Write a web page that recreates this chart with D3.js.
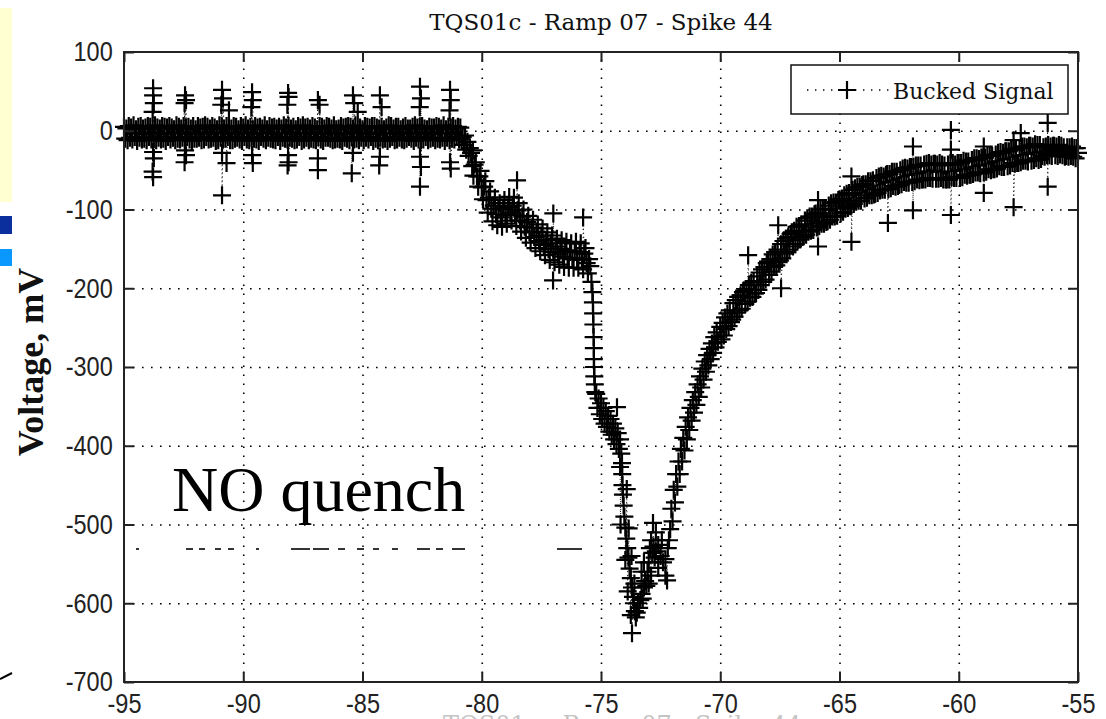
<!DOCTYPE html>
<html>
<head>
<meta charset="utf-8">
<script src="https://cdn.jsdelivr.net/npm/d3@7"></script>
<style>
  body { margin: 0; background: #fff; }
  svg { display: block; }
  .axis text { font-family: 'Liberation Sans', Arial, sans-serif; font-size: 25px; fill: #222; }
  .axis line { stroke: #222; stroke-width: 2; }
  .axis .domain { display: none; }
  .grid line { stroke: #000; stroke-width: 1.6; stroke-dasharray: 1.6 7.4; }
  .grid .domain { display: none; }
</style>
</head>
<body>
<svg id="chart" width="1106" height="719"></svg>
<script>
// x ticks (time) and y ticks (mV)
var xTicks = [-95, -90, -85, -80, -75, -70, -65, -60, -55];
var yTicks = [100, 0, -100, -200, -300, -400, -500, -600, -700];

// flat part, one reading every 0.05 from -95
var baseStart = -95, baseStep = 0.05;
var baselineMV = [
  5, -10, 3, -12, 6, -9, 4, -11, 7, -8,
  2, -13, 5, -9, 6, -11, 3, -10, 4, -12,
  6, -8, 5, -11, 2, -10, 7, -12, 4, -9,
  3, -11, 6, -10, 5, -13, 4, -8, 6, -11,
  4, -9, 2, -12, 7, -10, 5, -11, 3, -9,
  6, -12, 4, -8, 5, -11, 3, -13, 6, -10,
  2, -10, 6, -9, 4, -12, 5, -11, 7, -8,
  5, -11, 3, -10, 6, -9, 4, -13, 2, -12,
  7, -9, 5, -11, 3, -10, 6, -8, 4, -12,
  3, -12, 6, -10, 5, -9, 2, -11, 6, -13,
  4, -8, 7, -11, 3, -12, 5, -9, 2, -10,
  6, -11, 4, -13, 5, -8, 3, -10, 7, -12,
  2, -9, 6, -10, 4, -11, 5, -12, 3, -8,
  5, -13, 3, -9, 7, -10, 4, -11, 6, -9,
  3, -10, 5, -12, 2, -11, 6, -8, 4, -13,
  7, -11, 4, -9, 5, -12, 3, -10, 6, -11,
  4, -12, 2, -8, 6, -11, 5, -13, 3, -9,
  6, -9, 5, -10, 3, -12, 7, -11, 2, -10,
  3, -11, 6, -13, 4, -9, 5, -10, 6, -12,
  5, -8, 3, -11, 7, -10, 2, -12, 4, -9,
  2, -12, 6, -9, 5, -11, 4, -8, 6, -13,
  6, -10, 4, -12, 3, -9, 5, -11, 2, -10,
  4, -13, 7, -10, 6, -8, 3, -12, 5, -11,
  5, -9, 2, -11, 4, -12, 6, -10, 3, -8,
  3, -10, 5, -13, 7, -9, 4, -11, 5, -12,
  6, -11, 3, -8, 2, -12, 5, -10, 4, -9,
  4, -12, 6, -10, 5, -11, 3, -9, 7, -13,
  2, -9, 5, -12, 4, -10, 6, -11, 3, -8,
  5, -11, 4, -10, -8, -18, -6, -24, -14, -32,
  -22
];

// slope into the dip, one reading every 0.05 from -80.45
var slopeStart = -80.45, slopeStep = 0.05;
var slopeMV = [
  -28, -45, -57, -43, -40, -58, -71, -58, -51, -72,
  -87, -71, -64, -88, -104, -85, -77, -99, -115, -95,
  -85, -106, -120, -100, -92, -110, -122, -99, -88, -107,
  -118, -97, -84, -104, -114, -95, -85, -107, -121, -101,
  -92, -114, -128, -109, -100, -122, -136, -116, -108, -129,
  -142, -123, -113, -135, -149, -128, -119, -140, -153, -133,
  -124, -145, -158, -139, -129, -150, -164, -143, -133, -154,
  -167, -147, -137, -157, -170, -150, -139, -160, -173, -152,
  -141, -162, -174, -154, -143, -163, -174, -153, -141, -162,
  -174, -154, -143, -164, -176, -156, -149, -168, -181, -163
];

// the fall, the minimum and the climb back, [time, mV]
var dropPoints = [
  [-75.45, -172], [-75.4, -192], [-75.36, -205], [-75.34, -218], [-75.33, -232], [-75.32, -246], [-75.31, -262], [-75.3, -276], [-75.3, -290], [-75.29, -300],
  [-75.28, -312], [-75.26, -322], [-75.24, -332],
  [-75.2, -334], [-75.15, -352], [-75.1, -340], [-75.05, -360], [-75.0, -346], [-74.95, -366], [-74.9, -352], [-74.85, -372], [-74.8, -356], [-74.75, -376],
  [-74.7, -362], [-74.65, -382], [-74.6, -366], [-74.55, -386], [-74.5, -372], [-74.45, -392], [-74.4, -378], [-74.35, -398], [-74.3, -384], [-74.25, -404],
  [-74.2, -392], [-74.15, -410], [-74.12, -422], [-74.11, -436], [-74.1, -450], [-74.08, -462], [-74.05, -476], [-74.02, -490], [-73.98, -504], [-73.94, -518],
  [-73.92, -455], [-74.18, -500], [-73.84, -505], [-73.98, -545], [-73.72, -540], [-73.88, -585], [-73.6, -575], [-73.75, -615],
  [-73.9, -530], [-73.85, -542], [-73.8, -556], [-73.75, -568], [-73.7, -580], [-73.66, -592], [-73.62, -600], [-73.58, -610], [-73.54, -618], [-73.5, -612],
  [-73.45, -600], [-73.4, -606], [-73.35, -596], [-73.3, -588], [-73.25, -594], [-73.2, -580], [-73.15, -572], [-73.1, -578], [-73.05, -560], [-73.0, -548],
  [-73.3, -560], [-73.2, -548], [-73.0, -575], [-72.9, -565], [-72.7, -510], [-72.6, -555], [-72.45, -520], [-72.3, -565],
  [-72.95, -530], [-72.9, -520], [-72.85, -536], [-72.8, -528], [-72.75, -542], [-72.7, -534], [-72.6, -526], [-72.5, -540], [-72.4, -548], [-72.3, -544],
  [-72.2, -530], [-72.15, -520], [-72.1, -506],
  [-72.05, -480], [-72.0, -496], [-71.95, -456], [-71.9, -472], [-71.85, -436], [-71.8, -452], [-71.75, -420], [-71.7, -436], [-71.65, -404], [-71.6, -420],
  [-71.55, -390], [-71.5, -406], [-71.45, -376], [-71.4, -392], [-71.35, -364], [-71.3, -380], [-71.25, -352], [-71.2, -368], [-71.15, -342], [-71.1, -358],
  [-71.05, -332], [-71.0, -348], [-70.95, -322], [-70.9, -338], [-70.85, -312], [-70.8, -326], [-70.75, -302], [-70.7, -316], [-70.65, -293], [-70.6, -306],
  [-70.55, -285], [-70.5, -298], [-70.45, -277], [-70.4, -290], [-70.35, -270], [-70.3, -282], [-70.25, -262], [-70.2, -275], [-70.15, -256], [-70.1, -268]
];

// recovery, one reading every 0.05 from -70
var recStart = -70, recStep = 0.05;
var recoveryMV = [
  -249, -265, -244, -260, -237, -252, -232, -248, -228, -243,
  -240, -219, -236, -215, -231, -211, -228, -209, -226, -205,
  -203, -220, -201, -217, -196, -212, -193, -211, -191, -207,
  -206, -185, -202, -180, -196, -176, -192, -173, -189, -168,
  -166, -183, -163, -179, -157, -173, -154, -171, -151, -167,
  -165, -144, -162, -140, -156, -137, -154, -135, -151, -131,
  -129, -147, -127, -144, -122, -139, -121, -138, -119, -135,
  -134, -114, -132, -111, -128, -109, -127, -109, -126, -106,
  -105, -123, -104, -121, -100, -118, -100, -118, -99, -116,
  -115, -95, -113, -92, -109, -91, -109, -91, -108, -88,
  -87, -105, -86, -103, -82, -99, -80, -98, -79, -96,
  -95, -75, -93, -73, -90, -71, -89, -71, -89, -69,
  -68, -86, -68, -85, -64, -82, -64, -82, -63, -81,
  -80, -60, -79, -58, -76, -57, -75, -58, -75, -56,
  -55, -74, -55, -73, -52, -70, -52, -71, -52, -70,
  -69, -50, -68, -48, -65, -47, -66, -48, -66, -46,
  -46, -65, -46, -64, -44, -62, -44, -63, -44, -62,
  -62, -43, -62, -42, -60, -41, -60, -43, -61, -42,
  -42, -61, -43, -61, -41, -60, -43, -62, -44, -62,
  -62, -43, -62, -41, -59, -41, -60, -43, -60, -41,
  -41, -60, -41, -59, -38, -56, -39, -57, -39, -56,
  -56, -37, -55, -35, -53, -35, -53, -36, -54, -34,
  -34, -53, -34, -52, -31, -49, -32, -50, -32, -49,
  -49, -30, -48, -28, -45, -27, -46, -28, -46, -26,
  -26, -45, -26, -44, -23, -41, -24, -42, -24, -41,
  -41, -22, -40, -20, -38, -20, -38, -21, -39, -19,
  -19, -38, -20, -37, -17, -35, -18, -37, -18, -36,
  -32, -21, -33, -20, -31, -18, -31, -20, -32, -19,
  -19, -31, -20, -32, -18, -30, -19, -31, -21, -33,
  -32, -21, -33, -21, -32, -20, -33, -22, -35, -22,
  -28
];

// isolated readings away from the band
var spikePoints = [
  [-93.78, 54], [-93.78, 45], [-93.75, 35], [-93.8, 24], [-93.78, -27], [-93.75, -35], [-93.8, -52], [-93.78, -59],
  [-92.44, 45], [-92.4, 39], [-92.46, 35], [-92.44, -25], [-92.4, -31], [-92.46, -40],
  [-90.89, 52], [-90.85, 41], [-90.92, 33], [-90.6, 26], [-90.89, -28], [-90.7, -41], [-90.89, -82],
  [-89.63, 49], [-89.6, 39], [-89.66, 30], [-89.63, -31], [-89.6, -41],
  [-88.12, 48], [-88.1, 43], [-88.15, 33], [-88.12, -31], [-88.1, -40], [-88.14, -44],
  [-86.87, 39], [-86.8, 33], [-86.87, -35], [-86.87, -50],
  [-85.4, 45], [-85.35, 35], [-85.2, 24], [-85.4, -28], [-85.45, -54],
  [-84.27, 45], [-84.2, 30], [-84.27, -33], [-84.3, -44],
  [-82.59, 56], [-82.55, 41], [-82.6, 30], [-82.59, -33], [-82.55, -46], [-82.59, -71],
  [-81.33, 52], [-81.3, 39], [-81.35, 26], [-81.33, -40], [-81.3, -48],
  [-80.37, -25], [-78.52, -63], [-77.0, -105], [-77.01, -190], [-75.75, -110],
  [-74.33, -351], [-74.2, -427], [-72.82, -498], [-73.7, -638], [-72.23, -571],
  [-68.83, -158], [-67.57, -120], [-67.45, -200], [-65.9, -88], [-65.9, -147], [-64.5, -58], [-64.5, -141],
  [-62.97, -117], [-61.92, -20], [-61.92, -101], [-60.33, 1], [-60.33, -24], [-60.33, -107],
  [-58.95, -20], [-58.95, -79], [-57.7, -12], [-57.7, -97], [-57.4, -3], [-56.27, 10], [-56.27, -71]
];

var titleText = 'TQS01c - Ramp 07 - Spike 44';
var yLabelText = 'Voltage, mV';
var legendText = 'Bucked Signal';
var noteText = 'NO quench';

var frame = { left: 124, top: 52, right: 1078, bottom: 682 };
var width = frame.right - frame.left, height = frame.bottom - frame.top;
var svg = d3.select('#chart');

// slide leftovers at the left edge
svg.append('rect').attr('x', 0).attr('y', 8).attr('width', 12).attr('height', 194).attr('fill', '#ffffd2');
svg.append('rect').attr('x', 0).attr('y', 216).attr('width', 12).attr('height', 18).attr('fill', '#0b2f9c');
svg.append('rect').attr('x', 0).attr('y', 249).attr('width', 12).attr('height', 17).attr('fill', '#0a98ff');
svg.append('line').attr('x1', 0).attr('y1', 679).attr('x2', 12).attr('y2', 673).attr('stroke', '#000').attr('stroke-width', 2);

var x = d3.scaleLinear().domain([-95, -55]).range([0, width]);
var y = d3.scaleLinear().domain([-700, 100]).range([height, 0]);

var g = svg.append('g').attr('transform', 'translate(' + frame.left + ',' + frame.top + ')');

// grid
g.append('g').attr('class', 'grid')
  .attr('transform', 'translate(0,' + height + ')')
  .call(d3.axisBottom(x).tickValues(xTicks.slice(1, -1)).tickSize(-height).tickFormat(''));
g.append('g').attr('class', 'grid')
  .call(d3.axisLeft(y).tickValues(yTicks.slice(1, -1)).tickSize(-width).tickFormat(''));

// the series
function onGrid(start, step) {
  return function (v, i) { return [start + i * step, v]; };
}
var points = baselineMV.map(onGrid(baseStart, baseStep))
  .concat(slopeMV.map(onGrid(slopeStart, slopeStep)))
  .concat(dropPoints)
  .concat(recoveryMV.map(onGrid(recStart, recStep)))
  .concat(spikePoints);
points.sort(function (a, b) { return a[0] - b[0]; });

var line = d3.line().x(function (d) { return x(d[0]); }).y(function (d) { return y(d[1]); });
g.append('path').datum(points)
  .attr('d', line)
  .attr('fill', 'none')
  .attr('stroke', '#000')
  .attr('stroke-width', 1)
  .attr('stroke-dasharray', '1,3');

var plus = 'M-9,0H9M0,-9V9';
g.append('g').selectAll('path')
  .data(points)
  .join('path')
    .attr('d', plus)
    .attr('transform', function (d) { return 'translate(' + x(d[0]) + ',' + y(d[1]) + ')'; })
    .attr('stroke', '#000')
    .attr('stroke-width', 2.2)
    .attr('fill', 'none');

// axes, ticks pointing inward on all sides
var fmt = function (d) { return String(d); };
g.append('g').attr('class', 'axis')
  .attr('transform', 'translate(0,' + height + ')')
  .call(d3.axisBottom(x).tickValues(xTicks).tickSizeInner(-10).tickSizeOuter(0).tickPadding(10).tickFormat(fmt))
  .selectAll('text').attr('transform', 'scale(0.94,1.1)');
g.append('g').attr('class', 'axis')
  .call(d3.axisLeft(y).tickValues(yTicks).tickSizeInner(-10).tickSizeOuter(0).tickPadding(12).tickFormat(fmt))
  .selectAll('text').attr('transform', 'scale(0.94,1.1)');
g.append('g').attr('class', 'axis')
  .call(d3.axisTop(x).tickValues(xTicks).tickSizeInner(-10).tickSizeOuter(0).tickFormat(''));
g.append('g').attr('class', 'axis')
  .attr('transform', 'translate(' + width + ',0)')
  .call(d3.axisRight(y).tickValues(yTicks).tickSizeInner(-10).tickSizeOuter(0).tickFormat(''));

g.append('rect')
  .attr('width', width).attr('height', height)
  .attr('fill', 'none').attr('stroke', '#222').attr('stroke-width', 2);

// title and labels
svg.append('text')
  .attr('x', frame.left + width / 2).attr('y', 30)
  .attr('text-anchor', 'middle')
  .attr('font-family', "'DejaVu Serif', serif").attr('font-size', 23).attr('fill', '#111')
  .text(titleText);

svg.append('text')
  .attr('transform', 'translate(43,362) rotate(-90)')
  .attr('text-anchor', 'middle')
  .attr('font-family', "'Liberation Serif', 'Times New Roman', serif").attr('font-size', 36)
  .attr('font-weight', 'bold').attr('fill', '#111')
  .text(yLabelText);

svg.append('text')
  .attr('x', 172).attr('y', 511)
  .attr('font-family', "'Liberation Serif', 'Times New Roman', serif").attr('font-size', 64).attr('fill', '#000')
  .text(noteText);

// cut-off line of text under the note
var cutBits = [[136, 139], [186, 193], [199, 205], [215, 221], [228, 234], [256, 259], [291, 310], [313, 329],
  [338, 345], [357, 364], [373, 379], [392, 398], [417, 430], [436, 443], [452, 465], [557, 582]];
svg.append('g').selectAll('line').data(cutBits).join('line')
  .attr('x1', function (d) { return d[0]; }).attr('x2', function (d) { return d[1]; })
  .attr('y1', 549).attr('y2', 549)
  .attr('stroke', '#000').attr('stroke-width', 1.6);

// faint clipped x label at the very bottom
svg.append('text')
  .attr('x', 443).attr('y', 733)
  .attr('font-family', "'DejaVu Serif', serif").attr('font-size', 24).attr('fill', '#c4c4c4')
  .text(titleText);

// legend
var lg = svg.append('g').attr('transform', 'translate(791,65)');
lg.append('rect').attr('width', 277).attr('height', 49)
  .attr('fill', '#fff').attr('stroke', '#111').attr('stroke-width', 1.5);
lg.append('line').attr('x1', 16).attr('x2', 100).attr('y1', 25).attr('y2', 25)
  .attr('stroke', '#000').attr('stroke-width', 1.4).attr('stroke-dasharray', '1.4,6.6');
lg.append('path').attr('d', plus).attr('transform', 'translate(56,25)')
  .attr('stroke', '#000').attr('stroke-width', 2.2);
lg.append('text').attr('x', 102).attr('y', 34)
  .attr('font-family', "'DejaVu Serif', serif").attr('font-size', 22).attr('fill', '#111')
  .text(legendText);
</script>
</body>
</html>
